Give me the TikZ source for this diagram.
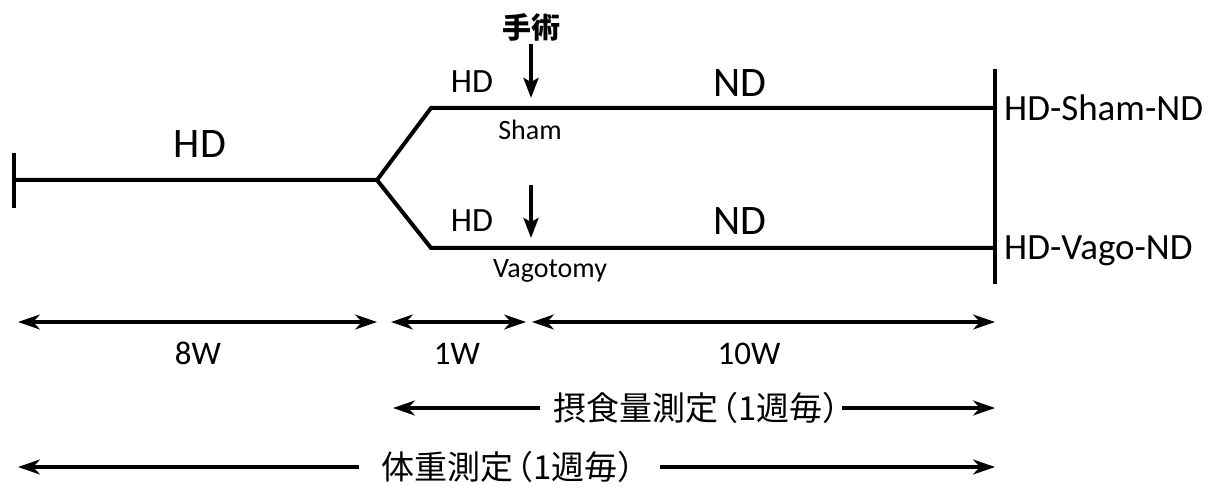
\documentclass[tikz,border=0pt]{standalone}
\usepackage{fontspec}
\setmainfont{Carlito}
\newfontfamily\cjk{Noto Sans CJK JP}
\usetikzlibrary{arrows.meta}
\begin{document}
\begin{tikzpicture}[x=1pt,y=-1pt,
  tl/.style={line width=4pt, line join=miter},
  varr/.style={line width=3.5pt, -{Stealth[length=20pt,width=15pt,inset=4pt]}},
  dimarr/.style={line width=3.2pt, {Stealth[length=22pt,width=15pt,inset=7pt]}-{Stealth[length=22pt,width=15pt,inset=7pt]}},
  onearr/.style={line width=3.5pt, -{Stealth[length=22pt,width=15pt,inset=7pt]}},
  lbl/.style={inner sep=0pt, anchor=base},
  fs/.style={font=\fontsize{#1}{#1}\selectfont}
]
\useasboundingbox (0,0) rectangle (1223,486);

% timeline coordinates
\coordinate (st) at (14,153);
\coordinate (sb) at (14,208);
\coordinate (s) at (14,180);
\coordinate (fork) at (377,180);
\coordinate (u0) at (431,108);
\coordinate (u1) at (995,108);
\coordinate (l0) at (431,248);
\coordinate (l1) at (995,248);
\coordinate (et) at (995,69);
\coordinate (eb) at (995,284);

\draw[tl] (st) -- (sb);
\draw[tl] (s) -- (fork) -- (u0) -- (u1);
\draw[tl] (fork) -- (l0) -- (l1);
\draw[tl] (et) -- (eb);

% labels on timeline
\node[lbl, fs=42] (hd0) at (200,158) {HD};
\node[lbl, fs=34] (hd1) at (472,93) {HD};
\node[lbl, fs=34] (hd2) at (472,232) {HD};
\node[lbl, fs=42] (nd1) at (740,97) {ND};
\node[lbl, fs=42] (nd2) at (740,235) {ND};
\node[lbl, fs=28] (sham) at (530,140) {Sham};
\node[lbl, fs=28] (vago) at (550,277) {Vagotomy};
\node[inner sep=0pt, anchor=base west, fs=37] (g1) at (1004,121) {HD-Sham-ND};
\node[inner sep=0pt, anchor=base west, fs=37] (g2) at (1004,260) {HD-Vago-ND};

% surgery
\node[fs=29, inner sep=3pt] (op) at (531,27) {\cjk\bfseries 手術};
\coordinate (ua) at (531,98);
\coordinate (lat) at (531,185);
\coordinate (la) at (531,238);
\draw[varr] (op.south) -- (ua);
\draw[varr] (lat) -- (la);

% durations
\coordinate (d0) at (18,322);
\coordinate (d1) at (377,322);
\coordinate (d2) at (391,322);
\coordinate (d3) at (526,322);
\coordinate (d4) at (532,322);
\coordinate (d5) at (995,322);
\draw[dimarr] (d0) -- (d1);
\draw[dimarr] (d2) -- (d3);
\draw[dimarr] (d4) -- (d5);
\node[lbl, fs=33] (w8) at (198,364) {8W};
\node[lbl, fs=33] (w1) at (457,364) {1W};
\node[lbl, fs=33] (w10) at (749,364) {10W};

% measurements
\node[fs=33, inner sep=0pt, anchor=west] (m1) at (553,408) {\cjk 摂食量測定\kern-0.38em（1週毎）\kern-0.5em};
\coordinate (m1l) at (393,408);
\coordinate (m1r) at (995,408);
\draw[onearr] ([xshift=-13pt]m1.west) -- (m1l);
\draw[onearr] ([xshift=2pt]m1.east) -- (m1r);

\node[fs=33, inner sep=0pt, anchor=west] (m2) at (381,467) {\cjk 体重測定\kern-0.38em（1週毎）\kern-0.5em};
\coordinate (m2l) at (18,467);
\coordinate (m2r) at (995,467);
\draw[onearr] ([xshift=-22pt]m2.west) -- (m2l);
\draw[onearr] ([xshift=25pt]m2.east) -- (m2r);
\end{tikzpicture}
\end{document}
